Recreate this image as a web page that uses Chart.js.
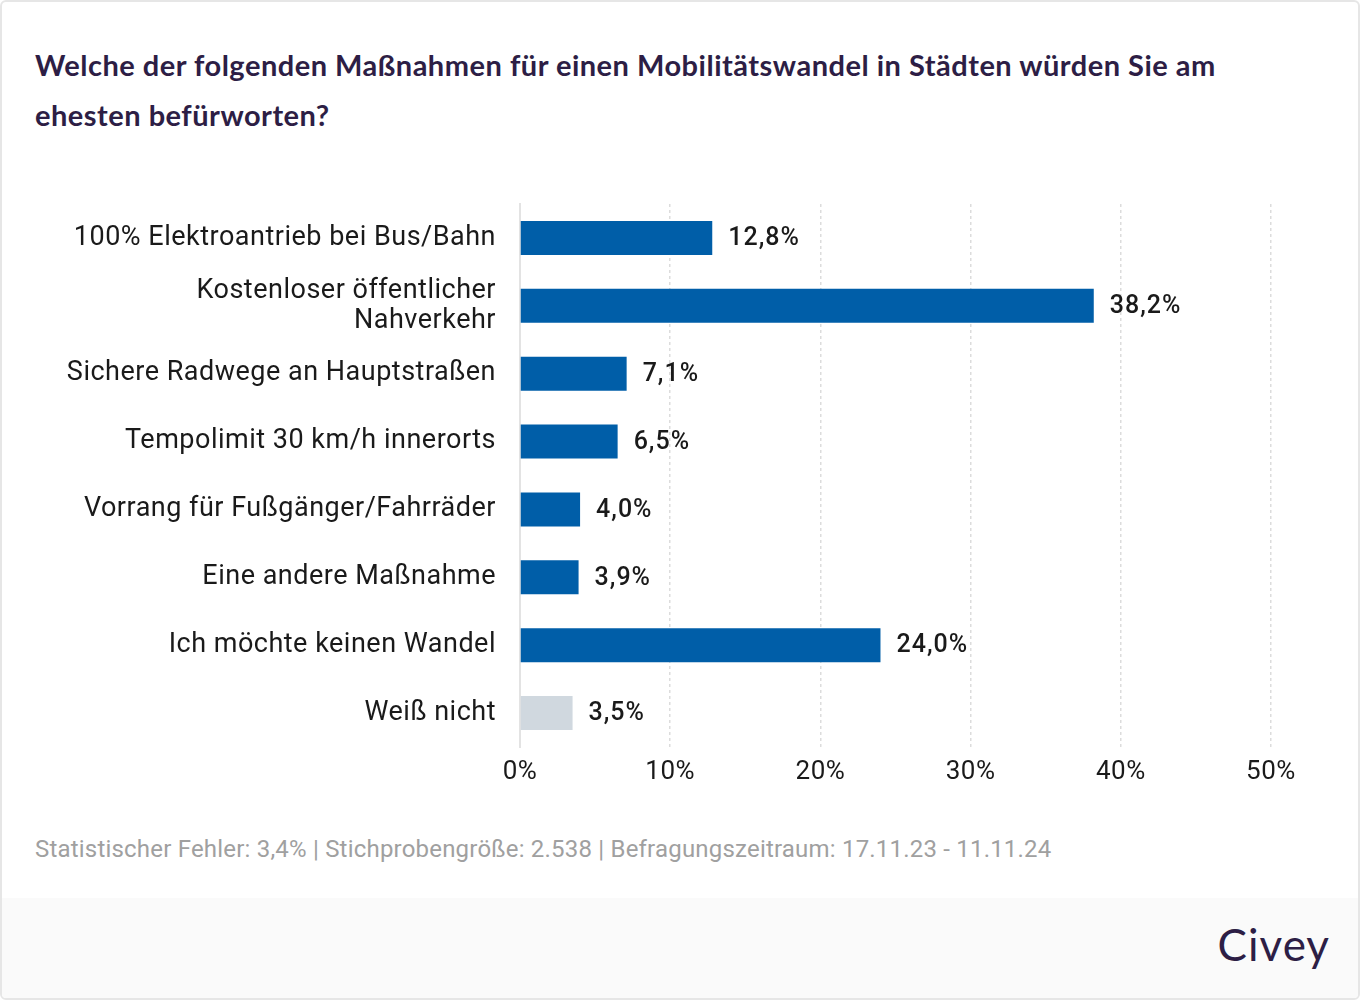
<!DOCTYPE html>
<html>
<head>
<meta charset="utf-8">
<script src="https://cdn.jsdelivr.net/npm/chart.js@4"></script>
<style>
  html, body { margin: 0; padding: 0; background: #fff; }
  .frame {
    position: relative; width: 1356px; height: 996px;
    border: 2px solid #e6e6e6; border-radius: 6px; overflow: hidden;
    background: #fff;
  }
  .title {
    position: absolute; left: 33px; top: 38px; width: 1300px;
    font-family: Lato, "Noto Sans", sans-serif; font-weight: 700;
    font-size: 29px; line-height: 50px; color: #2d1e45; letter-spacing: 0.5px;
  }
  .chart { position: absolute; left: -2px; top: 163px; width: 1360px; height: 635px; }
  .note {
    position: absolute; left: 33px; top: 833px;
    font-family: Roboto, sans-serif; font-size: 24px; color: #a0a0a0; letter-spacing: 0.2px;
  }
  .footer {
    position: absolute; left: 0; top: 896px; width: 100%; height: 100px;
    background: #fafafa;
  }
  .logo {
    position: absolute; right: 28px; top: 916px;
    font-family: Lato, "Noto Sans", sans-serif; font-size: 44px; color: #2d1e45;
    letter-spacing: 1px;
  }
</style>
</head>
<body>
<div class="frame">
  <div class="title">Welche der folgenden Maßnahmen für einen Mobilitätswandel in Städten würden Sie am<br>ehesten befürworten?</div>
  <div class="chart"><canvas id="chart" width="1360" height="635"></canvas></div>
  <div class="note">Statistischer Fehler: 3,4% | Stichprobengröße: 2.538 | Befragungszeitraum: 17.11.23 - 11.11.24</div>
  <div class="footer"></div>
  <div class="logo">Civey</div>
</div>
<script>
const categories = [
  '100% Elektroantrieb bei Bus/Bahn',
  ['Kostenloser öffentlicher', 'Nahverkehr'],
  'Sichere Radwege an Hauptstraßen',
  'Tempolimit 30 km/h innerorts',
  'Vorrang für Fußgänger/Fahrräder',
  'Eine andere Maßnahme',
  'Ich möchte keinen Wandel',
  'Weiß nicht'
];
const values = [12.8, 38.2, 7.1, 6.5, 4.0, 3.9, 24.0, 3.5];
const barColors = ['#005ea8', '#005ea8', '#005ea8', '#005ea8', '#005ea8', '#005ea8', '#005ea8', '#d0d8df'];
const xTicks = [0, 10, 20, 30, 40, 50];

// etwas Laufweite fuer alle Canvas-Texte
const spacing = {
  id: 'spacing',
  beforeLayout(chart) { chart.ctx.letterSpacing = '0.5px'; },
  beforeDraw(chart) { chart.ctx.letterSpacing = '0.5px'; }
};

// Prozentwerte rechts neben die Balken schreiben
const valueLabels = {
  id: 'valueLabels',
  afterDatasetsDraw(chart) {
    const ctx = chart.ctx;
    const meta = chart.getDatasetMeta(0);
    ctx.save();
    ctx.font = '500 25px Roboto';
    ctx.letterSpacing = '1px';
    ctx.fillStyle = '#1a1a1a';
    ctx.textBaseline = 'middle';
    ctx.textAlign = 'left';
    meta.data.forEach((bar, i) => {
      ctx.fillText(values[i].toFixed(1).replace('.', ',') + '%', bar.x + 16, bar.y + 1);
    });
    ctx.restore();
  }
};

let ctx = document.getElementById('chart').getContext('2d');
let ch = new Chart(ctx, {
  type: 'bar',
  data: {
    labels: categories,
    datasets: [{
      data: values,
      backgroundColor: barColors,
      barPercentage: 0.5,
      categoryPercentage: 1.0
    }]
  },
  options: {
    indexAxis: 'y',
    responsive: false,
    animation: false,
    layout: { padding: { top: 0, right: 89, left: 0, bottom: 0 } },
    plugins: { legend: { display: false }, tooltip: { enabled: false } },
    scales: {
      x: {
        min: 0,
        max: 50,
        afterBuildTicks: (scale) => { scale.ticks = xTicks.map(v => ({ value: v })); },
        afterFit: (scale) => { scale.height = 53; },
        ticks: {
          font: { family: 'Roboto', size: 26 },
          color: '#1a1a1a',
          padding: 10,
          callback: (v) => v + '%'
        },
        grid: {
          drawTicks: false,
          color: (c) => c.tick && c.tick.value === 0 ? 'rgba(0,0,0,0)' : '#dcdcdc',
          lineWidth: 1.5
        },
        border: { display: false, dash: [3, 3] }
      },
      y: {
        afterFit: (scale) => { scale.width = 520; },
        ticks: {
          font: { family: 'Roboto', size: 27, lineHeight: 1.11 },
          color: '#1a1a1a',
          padding: 24
        },
        grid: { display: false, drawTicks: false },
        border: { display: true, color: '#e3e3e3', width: 2 }
      }
    }
  },
  plugins: [spacing, valueLabels]
});
</script>
</body>
</html>
